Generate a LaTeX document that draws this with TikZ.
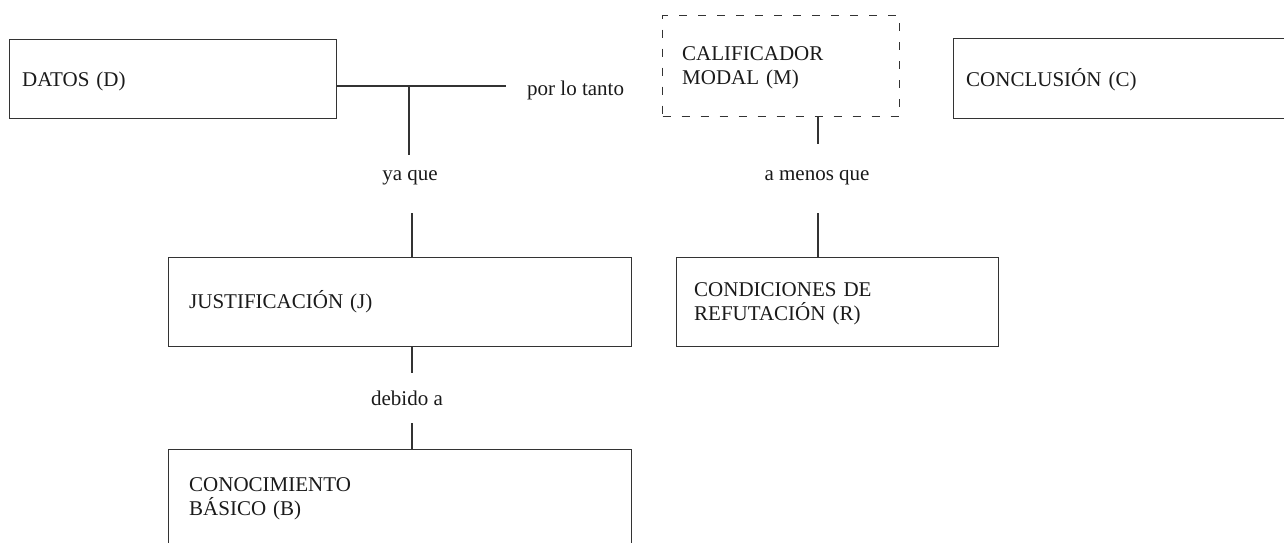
\documentclass[tikz,border=0pt]{standalone}
\usepackage{fontspec}
\setmainfont{Liberation Serif}
\definecolor{linec}{HTML}{333333}
\definecolor{textc}{HTML}{1A1A1A}
\begin{document}
\begin{tikzpicture}[x=1pt,y=-1pt,
  box/.style={draw=linec, line width=1.3pt, rectangle, inner sep=0pt, anchor=north west},
  dbox/.style={box, dash pattern=on 8pt off 11pt},
  txt/.style={anchor=base west, inner sep=0pt, text=textc, font=\fontsize{21}{24.5}\selectfont, text width=320pt, align=left},
  lbl/.style={inner sep=0pt, text=textc, font=\fontsize{21}{24.5}\selectfont},
  conn/.style={draw=linec, line width=1.3pt}]
\useasboundingbox (0,0) rectangle (1284,543);
\clip (0,0) rectangle (1284,543);
% boxes
\node[box, minimum width=327pt, minimum height=79pt] (d) at (9,39) {};
\node[dbox, minimum width=237pt, minimum height=101pt] (m) at (662,15) {};
\node[box, minimum width=400pt, minimum height=80pt] (c) at (953,38) {};
\node[box, minimum width=463pt, minimum height=89pt] (j) at (168,257) {};
\node[box, minimum width=322pt, minimum height=89pt] (r) at (676,257) {};
\node[box, minimum width=463pt, minimum height=150pt] (b) at (168,449) {};
% box texts
\node[txt] (dt) at (22,86) {DATOS (D)};
\node[txt] (mt) at (682,60) {CALIFICADOR\\MODAL (M)};
\node[txt] (ct) at (966,86) {CONCLUSIÓN (C)};
\node[txt] (jt) at (189,308) {JUSTIFICACIÓN (J)};
\node[txt] (rt) at (694,296) {CONDICIONES DE\\REFUTACIÓN (R)};
\node[txt] (bt) at (189,491) {CONOCIMIENTO\\BÁSICO (B)};
% connector labels
\node[lbl, anchor=base west] (plt) at (527,95) {por lo tanto};
\node[lbl, anchor=base] (yq) at (410,180) {ya que};
\node[lbl, anchor=base] (amq) at (817,180) {a menos que};
\node[lbl, anchor=base] (dba) at (407,405) {debido a};
% connector ends
\coordinate (t1) at (506,86);
\coordinate (y1) at (409,86);
\coordinate (y2) at (409,155);
\coordinate (y3) at (412,213);
\coordinate (m1) at (818,144);
\coordinate (r1) at (818,213);
\coordinate (j1) at (412,373);
\coordinate (b1) at (412,423);
% connectors
\draw[conn] (t1 -| d.east) -- (t1);
\draw[conn] (y1) -- (y2);
\draw[conn] (y3) -- (y3 |- j.north);
\draw[conn] (m1 |- m.south) -- (m1);
\draw[conn] (r1) -- (r1 |- r.north);
\draw[conn] (j1 |- j.south) -- (j1);
\draw[conn] (b1) -- (b1 |- b.north);
\end{tikzpicture}
\end{document}
